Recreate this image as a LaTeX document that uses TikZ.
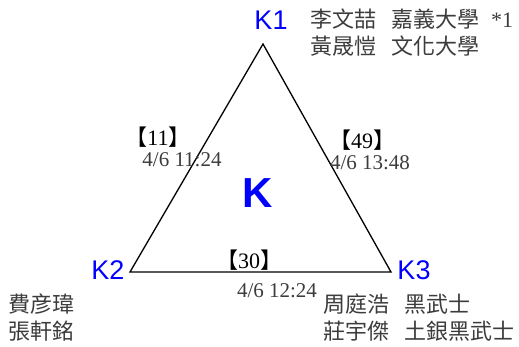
\documentclass[tikz,border=0pt]{standalone}
\usepackage{fontspec}
\setmainfont{Liberation Serif}
\setsansfont{Liberation Sans}
\newfontfamily\cjk{Noto Sans CJK TC}
\definecolor{txtgray}{RGB}{60,60,60}

\begin{document}
\begin{tikzpicture}[x=1pt,y=-1pt,
    vlabel/.style={text=blue,font=\sffamily\fontsize{27}{27}\selectfont,inner sep=0pt},
    names/.style={anchor=west,text=txtgray,font=\cjk\fontsize{22}{22}\selectfont,inner sep=0pt},
    score/.style={text=black,font=\fontsize{22}{22}\selectfont,inner sep=0pt},
    stamp/.style={text=txtgray,font=\fontsize{21}{21}\selectfont,inner sep=0pt}]
    \useasboundingbox (0,0) rectangle (519,347);
    % corners of the triangle
    \coordinate (v1) at (263,44);
    \coordinate (v2) at (130,272);
    \coordinate (v3) at (391,272);
    \draw[line width=1.3pt,line join=miter] (v1) -- (v2) -- (v3) -- cycle;
    \node[vlabel] (k1) at (271,20) {K1};
    \node[vlabel] (k2) at (108,270) {K2};
    \node[vlabel] (k3) at (414,270) {K3};
    \node[text=blue,font=\sffamily\bfseries\fontsize{42}{42}\selectfont,inner sep=0pt] (kk) at (258,193) {K};
    % edge labels
    \node[score] (s11) at (158,137) {{\cjk 【}11{\cjk 】}};
    \node[stamp] (t11) at (182,160) {4/6 11:24};
    \node[score] (s49) at (362,140) {{\cjk 【}49{\cjk 】}};
    \node[stamp] (t49) at (370,163) {4/6 13:48};
    \node[score] (s30) at (249,260) {{\cjk 【}30{\cjk 】}};
    \node[stamp] (t30) at (277,291) {4/6 12:24};
    % players
    \node[names] (p1a) at (310,19) {李文喆\hspace{15pt}嘉義大學\hspace{12pt}{\rmfamily *1}};
    \node[names] (p1b) at (310,46) {黃晟愷\hspace{15pt}文化大學};
    \node[names] (p2a) at (8,304) {費彦瑋};
    \node[names] (p2b) at (8,331) {張軒銘};
    \node[names] (p3a) at (323,304) {周庭浩\hspace{15pt}黑武士};
    \node[names] (p3b) at (323,331) {莊宇傑\hspace{15pt}土銀黑武士};
  \end{tikzpicture}
\end{document}
